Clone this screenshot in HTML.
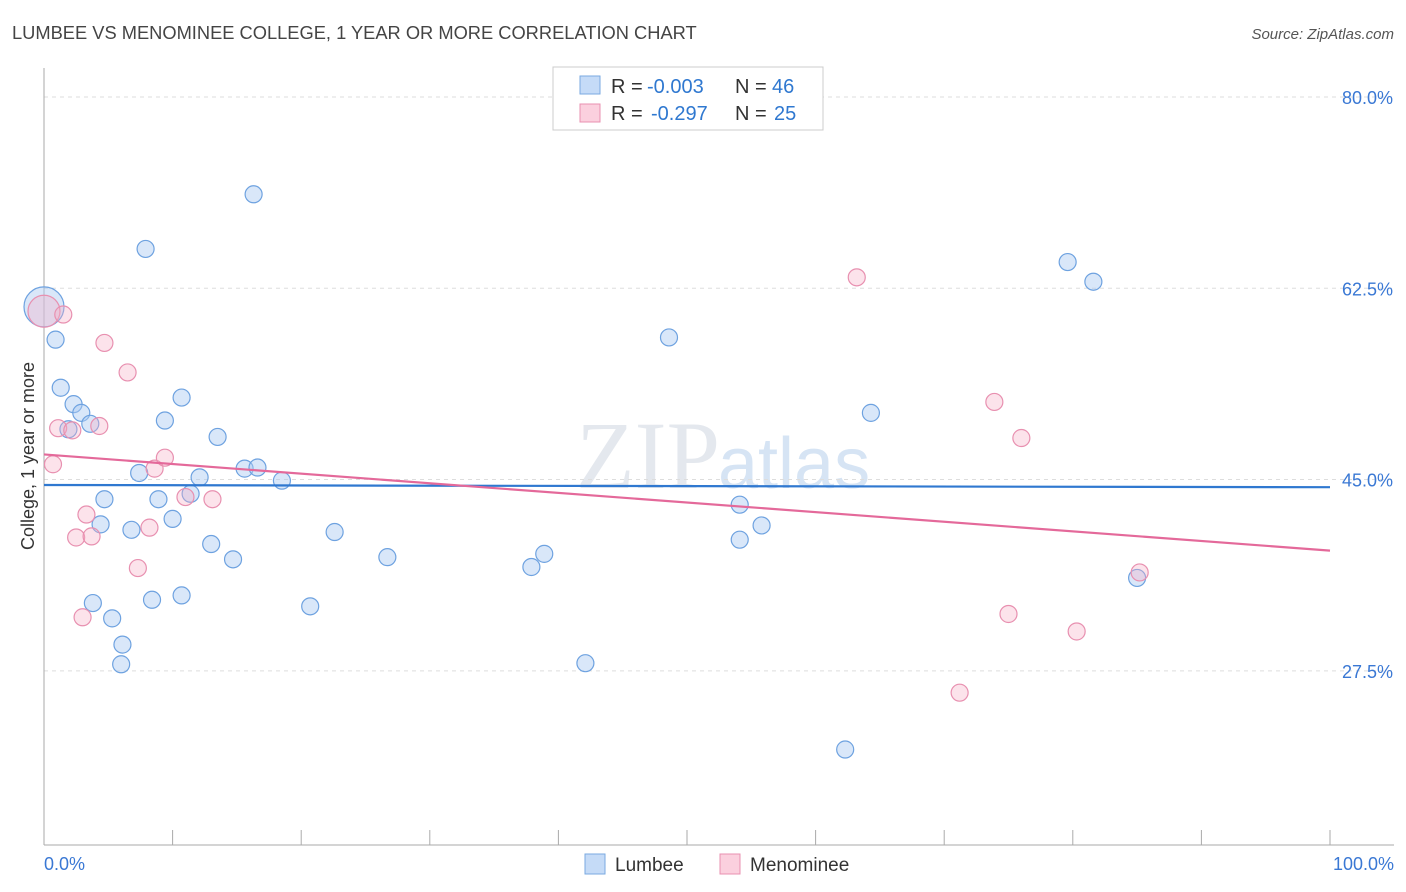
<!DOCTYPE html>
<html><head><meta charset="utf-8">
<style>
body{margin:0;background:#fff;font-family:"Liberation Sans",sans-serif;}
svg{display:block}
</style></head>
<body>
<svg id="chart" width="1406" height="892" xmlns="http://www.w3.org/2000/svg">
<text x="12" y="39" font-size="18.3" fill="#444">LUMBEE VS MENOMINEE COLLEGE, 1 YEAR OR MORE CORRELATION CHART</text>
<text x="1394" y="39" font-size="15" fill="#555" text-anchor="end" font-style="italic">Source: ZipAtlas.com</text>
<text x="720" y="488" font-size="96" fill="#e4e8ee" text-anchor="end" font-family="Liberation Serif, serif">ZIP</text>
<text x="718" y="488" font-size="72" fill="#d6e4f4">atlas</text>
<g id="grid"></g>
<g id="axes"></g>
<g id="marks"></g>
<g>
<rect x="553" y="67" width="270" height="63" fill="#fff" stroke="#ccc"/>
<rect x="580" y="76" width="20" height="18" fill="#c5dbf7" stroke="#7aaae0"/>
<rect x="580" y="104" width="20" height="18" fill="#fbd0de" stroke="#e890b0"/>
<g font-size="20" fill="#333">
<text x="611" y="93">R =</text><text x="647" y="93" fill="#2f78d0">-0.003</text>
<text x="735" y="93">N =</text><text x="772" y="93" fill="#2f78d0">46</text></g>
<g font-size="20" fill="#333">
<text x="611" y="120">R =</text><text x="651" y="120" fill="#2f78d0">-0.297</text>
<text x="735" y="120">N =</text><text x="774" y="120" fill="#2f78d0">25</text></g>
</g>
<g>
<rect x="585" y="854" width="20" height="20" fill="#c5dbf7" stroke="#7aaae0"/>
<text x="615" y="871" font-size="19" fill="#333">Lumbee</text>
<rect x="720" y="854" width="20" height="20" fill="#fbd0de" stroke="#e890b0"/>
<text x="750" y="871" font-size="19" fill="#333">Menominee</text>
</g>
<text x="44" y="870" font-size="18" fill="#3a78d4">0.0%</text>
<text x="1394" y="870" font-size="18" fill="#3a78d4" text-anchor="end">100.0%</text>
<text transform="translate(34,456) rotate(-90)" font-size="18" fill="#333" text-anchor="middle">College, 1 year or more</text>
</svg>
<script>
const yTicks=[80,62.5,45,27.5];
const yTickLabels=["80.0%","62.5%","45.0%","27.5%"];
const lumbeeX=[0,0.9,1.3,2.3,2.9,1.9,3.6,9.4,10.7,13.5,7.4,4.7,4.4,6.8,8.9,10.0,11.4,12.1,15.6,16.6,18.5,13.0,14.7,22.6,26.7,3.8,5.3,8.4,10.7,6.1,6.0,20.7,37.9,38.9,42.1,7.9,16.3,48.6,54.1,54.1,55.8,64.3,62.3,79.6,81.6,85.0];
const lumbeeY=[60.8,57.8,53.4,51.9,51.1,49.6,50.1,50.4,52.5,48.9,45.6,43.2,40.9,40.4,43.2,41.4,43.7,45.2,46.0,46.1,44.9,39.1,37.7,40.2,37.9,33.7,32.3,34.0,34.4,29.9,28.1,33.4,37.0,38.2,28.2,66.1,71.1,58.0,42.7,39.5,40.8,51.1,20.3,64.9,63.1,36.0];
const menX=[0,1.5,4.7,6.5,1.1,2.2,4.3,0.7,3.3,2.5,3.7,8.6,9.4,11.0,13.1,8.2,7.3,3.0,63.2,73.9,76.0,85.2,75.0,80.3,71.2];
const menY=[60.4,60.1,57.5,54.8,49.7,49.5,49.9,46.4,41.8,39.7,39.8,46.0,47.0,43.4,43.2,40.6,36.9,32.4,63.5,52.1,48.8,36.5,32.7,31.1,25.5];
const lumbeeTrend=[44.5,44.3];
const menTrend=[47.3,38.5];
const NS="http://www.w3.org/2000/svg";
function xs(v){return 44+v*12.86;}
function ys(v){return 97+(80-v)*10.93;}
function mk(tag,a,parent){const e=document.createElementNS(NS,tag);for(const k in a)e.setAttribute(k,a[k]);parent.appendChild(e);return e;}
const grid=document.getElementById('grid'),axes=document.getElementById('axes'),marks=document.getElementById('marks');
yTicks.forEach((t,i)=>{
 const l=mk('line',{x1:44,x2:1394,y1:ys(t),y2:ys(t),stroke:'#ddd','stroke-dasharray':'4,4'},grid);
 
 
 const tx=mk('text',{x:1393,y:ys(t)+7,'font-size':18,fill:'#3a78d4','text-anchor':'end'},grid);
 tx.textContent=yTickLabels[i];
 
 
});
let a=mk('line',{x1:44,x2:44,y1:68,y2:845,stroke:'#aaa'},axes);


a=mk('line',{x1:44,x2:1394,y1:845,y2:845,stroke:'#aaa'},axes);


for(let i=0;i<=10;i++){
 const t=mk('line',{x1:xs(i*10),x2:xs(i*10),y1:830,y2:845,stroke:'#aaa'},axes);
 
 
}
function dots(X,Y,fill,stroke,name,bigR){
 X.forEach((x,i)=>{
  const c=mk('circle',{cx:xs(x),cy:ys(Y[i]),r:(i===0?bigR:8.5),fill:fill,stroke:stroke,'stroke-width':1.2},marks);
  
  
 });
}
dots(lumbeeX,lumbeeY,'rgba(170,202,242,0.45)','#6ea2e0','lumbee-point',20);
dots(menX,menY,'rgba(245,175,198,0.35)','#e890b0','menominee-point',16);
let tl=mk('line',{x1:xs(0),x2:xs(100),y1:ys(lumbeeTrend[0]),y2:ys(lumbeeTrend[1]),stroke:'#2f78d0','stroke-width':2.2},marks);


tl=mk('line',{x1:xs(0),x2:xs(100),y1:ys(menTrend[0]),y2:ys(menTrend[1]),stroke:'#e4699a','stroke-width':2.2},marks);


</script>
</body></html>
